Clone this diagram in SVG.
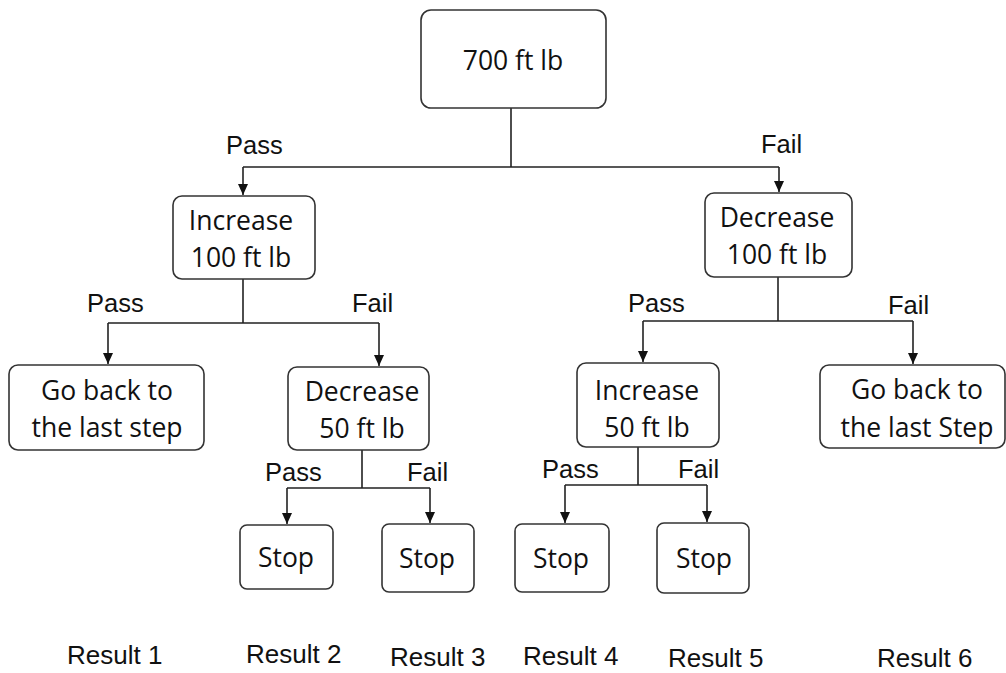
<svg xmlns="http://www.w3.org/2000/svg" width="1006" height="673" viewBox="0 0 1006 673">
  <style>
    .box { fill: #ffffff; stroke: #333333; stroke-width: 1.6; }
    .node { font-family: "Open Sans", "Noto Sans", sans-serif; font-size: 26.5px; fill: #111111; text-anchor: middle; }
    .lbl { font-family: "Liberation Sans", Arial, sans-serif; font-size: 25.5px; fill: #111111; }
    .res { font-family: "Liberation Sans", Arial, sans-serif; font-size: 26px; fill: #111111; }
    .wire { fill: none; stroke: #222222; stroke-width: 1.6; }
    .arrow { fill: none; stroke: #222222; stroke-width: 1.6; marker-end: url(#head); }
  </style>
  <defs>
    <marker id="head" markerUnits="userSpaceOnUse" markerWidth="12" markerHeight="12" viewBox="0 0 12 12" refX="11" refY="6" orient="auto">
      <path d="M0,1 L11,6 L0,11 Z" fill="#111111"/>
    </marker>
  </defs>
  <rect width="1006" height="673" fill="#ffffff"/>

  <!-- connectors -->
  <g id="connectors">
    <path class="wire" d="M511,108 V167 M243,167 H779"/>
    <path class="arrow" d="M243,167 V195"/>
    <path class="arrow" d="M779,167 V192"/>

    <path class="wire" d="M243,279 V323 M108,323 H379"/>
    <path class="arrow" d="M108,323 V364"/>
    <path class="arrow" d="M379,323 V366"/>

    <path class="wire" d="M778,277 V321 M643,321 H913"/>
    <path class="arrow" d="M643,321 V362"/>
    <path class="arrow" d="M913,321 V364"/>

    <path class="wire" d="M362,450 V488 M287,488 H430"/>
    <path class="arrow" d="M287,488 V524"/>
    <path class="arrow" d="M430,488 V523"/>

    <path class="wire" d="M638,447 V485 M565,485 H707"/>
    <path class="arrow" d="M565,485 V523"/>
    <path class="arrow" d="M707,485 V522"/>
  </g>

  <!-- nodes -->
  <g id="start">
    <rect class="box" x="421" y="10" width="185" height="98" rx="10"/>
    <text class="node" x="513" y="70">700 ft lb</text>
  </g>
  <g id="increase100">
    <rect class="box" x="173" y="196" width="142" height="83" rx="9"/>
    <text class="node" x="241" y="230">Increase</text>
    <text class="node" x="241" y="267">100 ft lb</text>
  </g>
  <g id="decrease100">
    <rect class="box" x="705" y="193" width="147" height="84" rx="9"/>
    <text class="node" x="777" y="227">Decrease</text>
    <text class="node" x="777" y="264">100 ft lb</text>
  </g>
  <g id="goback-left">
    <rect class="box" x="9" y="365" width="195" height="85" rx="9"/>
    <text class="node" x="107" y="400">Go back to</text>
    <text class="node" x="107" y="437">the last step</text>
  </g>
  <g id="decrease50">
    <rect class="box" x="288" y="367" width="141" height="83" rx="9"/>
    <text class="node" x="362" y="401">Decrease</text>
    <text class="node" x="362" y="438">50 ft lb</text>
  </g>
  <g id="increase50">
    <rect class="box" x="577" y="363" width="142" height="84" rx="9"/>
    <text class="node" x="647" y="400">Increase</text>
    <text class="node" x="647" y="437">50 ft lb</text>
  </g>
  <g id="goback-right">
    <rect class="box" x="820" y="365" width="185" height="83" rx="9"/>
    <text class="node" x="917" y="399">Go back to</text>
    <text class="node" x="917" y="437">the last Step</text>
  </g>
  <g id="stop1">
    <rect class="box" x="240" y="525" width="93" height="64" rx="7"/>
    <text class="node" x="286" y="567">Stop</text>
  </g>
  <g id="stop2">
    <rect class="box" x="382" y="524" width="92" height="68" rx="7"/>
    <text class="node" x="427" y="568">Stop</text>
  </g>
  <g id="stop3">
    <rect class="box" x="515" y="524" width="94" height="68" rx="7"/>
    <text class="node" x="561" y="568">Stop</text>
  </g>
  <g id="stop4">
    <rect class="box" x="657" y="523" width="92" height="70" rx="7"/>
    <text class="node" x="704" y="568">Stop</text>
  </g>

  <!-- branch labels -->
  <g id="labels">
    <text class="lbl" x="226" y="154">Pass</text>
    <text class="lbl" x="761" y="153">Fail</text>
    <text class="lbl" x="87" y="312">Pass</text>
    <text class="lbl" x="352" y="312">Fail</text>
    <text class="lbl" x="628" y="312">Pass</text>
    <text class="lbl" x="888" y="314">Fail</text>
    <text class="lbl" x="265" y="481">Pass</text>
    <text class="lbl" x="407" y="481">Fail</text>
    <text class="lbl" x="542" y="478">Pass</text>
    <text class="lbl" x="678" y="478">Fail</text>
  </g>

  <!-- outcome row -->
  <g id="results">
    <text class="res" x="67" y="664">Result 1</text>
    <text class="res" x="246" y="663">Result 2</text>
    <text class="res" x="390" y="666">Result 3</text>
    <text class="res" x="523" y="665">Result 4</text>
    <text class="res" x="668" y="667">Result 5</text>
    <text class="res" x="877" y="667">Result 6</text>
  </g>
</svg>
